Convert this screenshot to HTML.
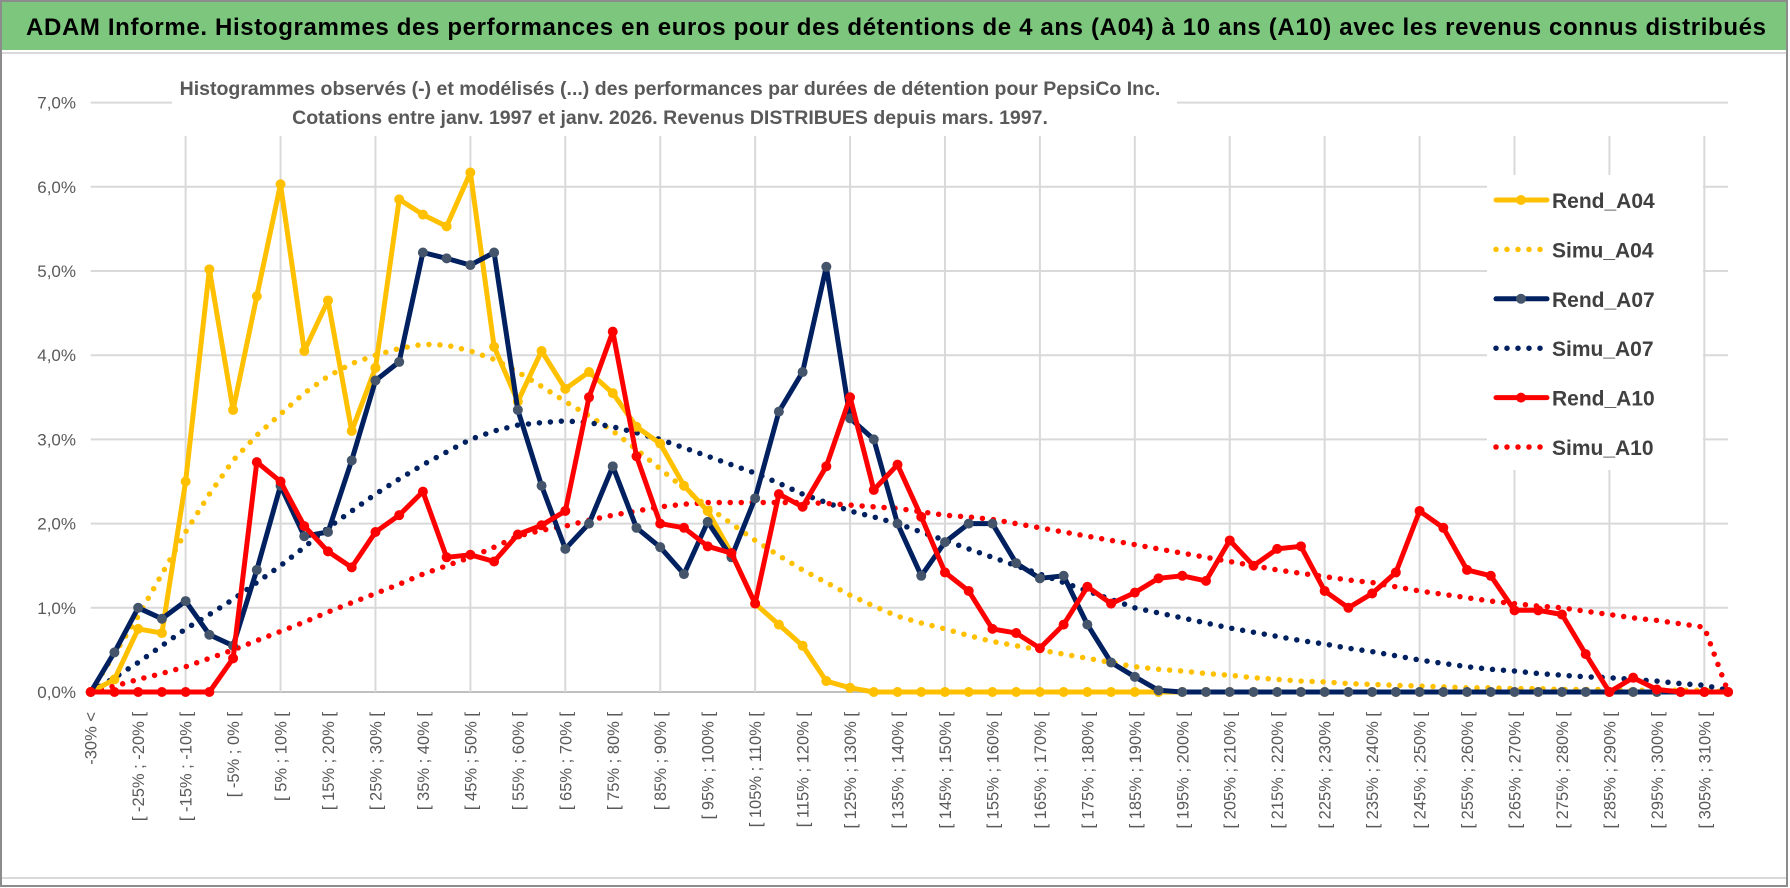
<!DOCTYPE html>
<html><head><meta charset="utf-8">
<style>
html,body{margin:0;padding:0;background:#fff;}
svg{display:block;font-family:"Liberation Sans",sans-serif;}
</style></head>
<body>
<svg id="chart" width="1790" height="888" viewBox="0 0 1790 888">
  <rect x="0" y="0" width="1790" height="888" fill="#fff"/>
  <rect x="1" y="1" width="1786" height="885" fill="none" stroke="#8c8c8c" stroke-width="2"/>
  <rect x="2" y="2" width="1784" height="48" fill="#7dc67d"/>
  <line x1="2" y1="53" x2="1786" y2="53" stroke="#d9d9d9" stroke-width="2"/>
  <text x="26" y="35" font-size="24" font-weight="bold" fill="#000" textLength="1740">ADAM Informe. Histogrammes des performances en euros pour des détentions de 4 ans (A04) à 10 ans (A10) avec les revenus connus distribués</text>
  <line x1="2" y1="878" x2="1786" y2="878" stroke="#d9d9d9" stroke-width="2"/>
  <g id="grid"></g>
  <rect x="172" y="60" width="1005" height="76" fill="#fff"/>
  <text x="670" y="95" text-anchor="middle" font-size="19.5" font-weight="bold" fill="#595959">Histogrammes observés (-) et modélisés (...) des performances par durées de détention pour PepsiCo Inc.</text>
  <text x="670" y="124" text-anchor="middle" font-size="19.5" font-weight="bold" fill="#595959">Cotations entre janv. 1997 et janv. 2026. Revenus DISTRIBUES depuis mars. 1997.</text>
  <g id="yaxis"></g>
  <g id="xaxis"></g>
  <g id="series"></g>
  <g id="legend"></g>
</svg>
<script>
const simA04 = [0,0.45,0.9,1.4,1.9,2.35,2.75,3.05,3.3,3.55,3.75,3.9,4.0,4.08,4.13,4.12,4.05,3.95,3.8,3.63,3.45,3.28,3.1,2.88,2.65,2.42,2.2,2.0,1.8,1.62,1.45,1.3,1.15,1.02,0.9,0.82,0.75,0.67,0.6,0.55,0.5,0.45,0.4,0.35,0.3,0.27,0.25,0.22,0.2,0.17,0.15,0.13,0.12,0.1,0.09,0.08,0.07,0.06,0.05,0.05,0.04,0.04,0.03,0.03,0.03,0.02,0.02,0.02,0.02,0];
const rendA04 = [0,0.15,0.75,0.7,2.5,5.02,3.35,4.7,6.03,4.05,4.65,3.1,3.85,5.85,5.67,5.53,6.17,4.1,3.45,4.05,3.6,3.8,3.55,3.15,2.95,2.45,2.15,1.65,1.05,0.8,0.55,0.13,0.05,0,0,0,0,0,0,0,0,0,0,0,0,0,0,0,0,0,0,0,0,0,0,0,0,0,0,0,0,0,0,0,0,0,0,0,0,0];
const rendA07 = [0,0.47,1.0,0.87,1.08,0.68,0.55,1.45,2.45,1.85,1.9,2.75,3.7,3.92,5.22,5.15,5.07,5.22,3.35,2.45,1.7,2.0,2.68,1.95,1.72,1.4,2.02,1.6,2.3,3.33,3.8,5.05,3.25,3.0,2.0,1.38,1.78,2.0,2.0,1.53,1.35,1.38,0.8,0.35,0.18,0.02,0,0,0,0,0,0,0,0,0,0,0,0,0,0,0,0,0,0,0,0,0,0,0,0];
const simA07 = [0,0.17,0.35,0.55,0.75,0.92,1.1,1.3,1.5,1.72,1.95,2.15,2.35,2.53,2.7,2.85,3.0,3.1,3.17,3.2,3.22,3.2,3.15,3.08,3.0,2.9,2.8,2.7,2.6,2.48,2.35,2.25,2.15,2.08,2.0,1.9,1.8,1.7,1.6,1.5,1.4,1.3,1.2,1.1,1.0,0.94,0.88,0.82,0.76,0.71,0.66,0.61,0.57,0.52,0.48,0.43,0.38,0.34,0.3,0.27,0.25,0.22,0.2,0.18,0.17,0.15,0.13,0.1,0.08,0.02];
const rendA10 = [0,0,0,0,0,0,0.4,2.73,2.5,1.97,1.67,1.48,1.9,2.1,2.38,1.6,1.63,1.55,1.87,1.98,2.15,3.5,4.28,2.8,2.0,1.95,1.73,1.65,1.05,2.35,2.2,2.68,3.5,2.4,2.7,2.08,1.42,1.2,0.75,0.7,0.52,0.8,1.25,1.05,1.18,1.35,1.38,1.32,1.8,1.5,1.7,1.73,1.2,1.0,1.17,1.42,2.15,1.95,1.45,1.38,0.97,0.97,0.92,0.45,0.0,0.17,0.03,0,0,0];
const simA10 = [0,0.07,0.15,0.22,0.3,0.4,0.5,0.61,0.72,0.83,0.95,1.06,1.17,1.28,1.4,1.5,1.6,1.72,1.85,1.92,1.97,2.04,2.1,2.15,2.2,2.23,2.25,2.25,2.25,2.25,2.25,2.24,2.22,2.2,2.18,2.14,2.1,2.08,2.05,2.0,1.95,1.9,1.85,1.8,1.75,1.7,1.65,1.6,1.55,1.5,1.45,1.41,1.37,1.33,1.3,1.25,1.2,1.16,1.12,1.08,1.05,1.02,1.0,0.96,0.92,0.88,0.85,0.81,0.77,0];
const yTicks = ["0,0%","1,0%","2,0%","3,0%","4,0%","5,0%","6,0%","7,0%"];
const categories = (function(){const c=["-30% <"];for(let a=-30;a<=305;a+=5){c.push("[ "+a+"% ; "+(a+5)+"% [");}c.push("> 310%");return c;})();

const NS="http://www.w3.org/2000/svg";
const X0=90.7, STEP=23.73, Y0=692, PPU=84.2;
function xs(i){return X0+i*STEP;}
function ys(v){return Y0-v*PPU;}
function mk(tag,attrs,parent){const e=document.createElementNS(NS,tag);for(const k in attrs)e.setAttribute(k,attrs[k]);parent.appendChild(e);return e;}

const grid=document.getElementById('grid');
for(let t=0;t<yTicks.length;t++){
  const l=mk('line',{x1:X0,x2:xs(categories.length-1),y1:ys(t),y2:ys(t),stroke:t===0?'#bfbfbf':'#d9d9d9','stroke-width':2},grid);
  
  
}
for(let i=4;i<categories.length;i+=4){
  const l=mk('line',{x1:xs(i),x2:xs(i),y1:136,y2:Y0,stroke:'#d9d9d9','stroke-width':2},grid);
  
  
}
const yax=document.getElementById('yaxis');
yTicks.forEach((t,k)=>{
  const e=mk('text',{x:76,y:ys(k)+6,'text-anchor':'end','font-size':17,fill:'#595959'},yax);
  e.textContent=t;
  
  
});
const xax=document.getElementById('xaxis');
categories.forEach((c,i)=>{
  if(i%2!==0)return;
  const x=xs(i)+6;
  const e=mk('text',{x:x,y:712,'text-anchor':'end','font-size':16.5,fill:'#595959',transform:'rotate(-90 '+x+' 712)'},xax);
  e.textContent=c;
  
  
});

const ser=document.getElementById('series');
function pts(arr){return arr.map((v,i)=>xs(i).toFixed(1)+','+ys(v).toFixed(1)).join(' ');}
function dotted(arr,color,name){
  const p=mk('polyline',{points:pts(arr),fill:'none',stroke:color,'stroke-width':5.5,'stroke-linecap':'round','stroke-dasharray':'0 11'},ser);
  
  
}
function solid(arr,color,mcolor,name){
  const p=mk('polyline',{points:pts(arr),fill:'none',stroke:color,'stroke-width':5,'stroke-linejoin':'round'},ser);
  
  
  arr.forEach((v,i)=>{
    const c=mk('circle',{cx:xs(i),cy:ys(v),r:5,fill:mcolor},ser);
    
    
  });
}
dotted(simA04,'#ffc000','simu-a04-line');
dotted(simA07,'#002060','simu-a07-line');
dotted(simA10,'#ff0000','simu-a10-line');
solid(rendA04,'#ffc000','#ffc000','rend-a04-line');
solid(rendA07,'#002060','#44546a','rend-a07-line');
solid(rendA10,'#ff0000','#ff0000','rend-a10-line');

const lg=document.getElementById('legend');
mk('rect',{x:1487,y:175,width:216,height:295,fill:'#fff'},lg);
const entries=[["Rend_A04","#ffc000","#ffc000",false],["Simu_A04","#ffc000",null,true],["Rend_A07","#002060","#44546a",false],["Simu_A07","#002060",null,true],["Rend_A10","#ff0000","#ff0000",false],["Simu_A10","#ff0000",null,true]];
entries.forEach((en,k)=>{
  const y=200+k*49.4;
  const g=mk('g',{},lg);
  
  
  if(en[3]){
    mk('line',{x1:1496,x2:1547,y1:y,y2:y,stroke:en[1],'stroke-width':5.5,'stroke-linecap':'round','stroke-dasharray':'0 11'},g);
  }else{
    mk('line',{x1:1496,x2:1547,y1:y,y2:y,stroke:en[1],'stroke-width':5,'stroke-linecap':'round'},g);
    mk('circle',{cx:1521,cy:y,r:5,fill:en[2]},g);
  }
  const t=mk('text',{x:1552,y:y+8,'font-size':21,'font-weight':'bold',fill:'#404040'},g);
  t.textContent=en[0];
});
</script>
</body></html>
